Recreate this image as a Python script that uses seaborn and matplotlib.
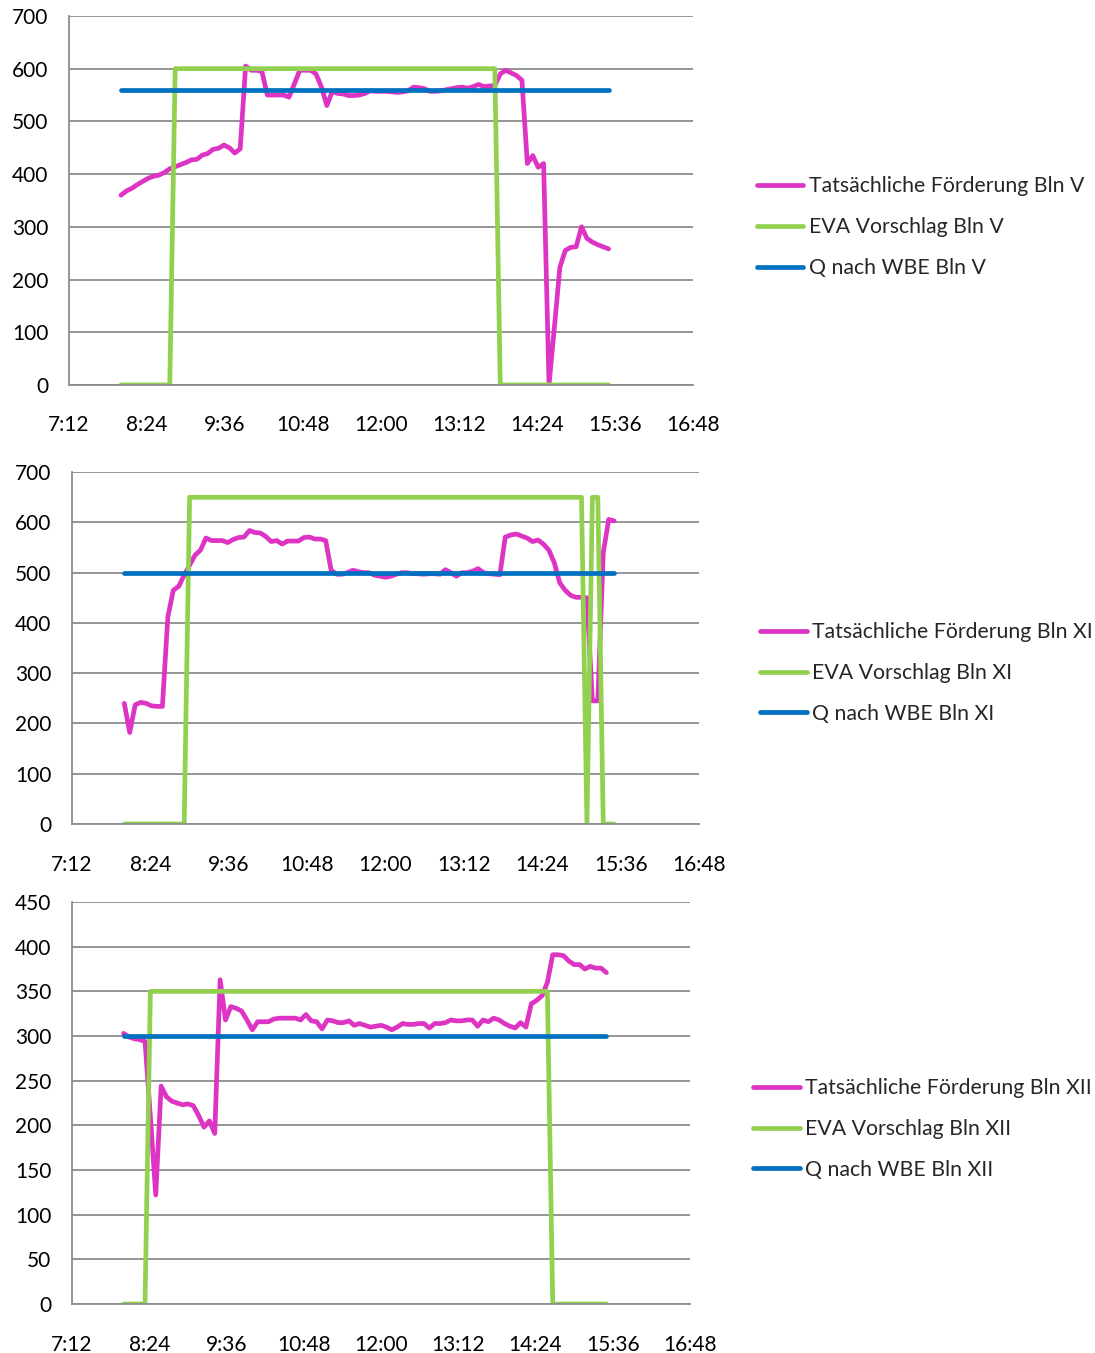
import numpy as np
import pandas as pd
import matplotlib
matplotlib.use('agg')
import matplotlib.pyplot as plt
import matplotlib.dates as mdates
from matplotlib.ticker import FuncFormatter
import seaborn as sns

# measured flow every 5 minutes, 8:00 - 15:30
foerderung_v = [360, 368, 373, 380, 386, 392, 396, 398, 403, 410, 414, 418, 422, 427, 428, 436, 439, 447, 449, 455,
                450, 440, 448, 605, 597, 597, 595, 550, 550, 550, 550, 546, 571, 597, 597, 597, 590, 565, 530, 557,
                553, 552, 549, 549, 550, 553, 558, 557, 557, 557, 556, 555, 556, 558, 565, 564, 562, 557, 557, 558,
                560, 562, 564, 565, 563, 566, 570, 566, 567, 568, 590, 597, 592, 587, 578, 420, 435, 413, 420, 0,
                110, 223, 255, 261, 262, 300, 278, 271, 266, 262, 258]
foerderung_xi = [240, 182, 237, 242, 240, 235, 234, 234, 412, 465, 473, 495, 515, 535, 545, 569, 564, 564, 564, 560,
                 566, 570, 571, 584, 580, 579, 572, 562, 564, 557, 563, 563, 563, 570, 571, 567, 567, 564, 505, 497,
                 497, 500, 505, 502, 500, 500, 495, 493, 491, 493, 497, 500, 500, 498, 498, 497, 498, 498, 497, 506,
                 500, 493, 500, 500, 503, 508, 500, 498, 497, 496, 571, 575, 577, 573, 569, 562, 565, 557, 545, 520,
                 480, 465, 455, 451, 451, 450, 245, 245, 540, 606, 603]
foerderung_xii = [303, 299, 297, 296, 294, 210, 122, 244, 232, 227, 225, 223, 224, 222, 211, 198, 205, 191, 363, 318,
                  333, 331, 328, 318, 307, 316, 316, 316, 319, 320, 320, 320, 320, 318, 324, 317, 316, 308, 318, 317,
                  315, 315, 317, 312, 314, 312, 310, 311, 312, 310, 307, 310, 314, 313, 313, 314, 314, 309, 314, 314,
                  315, 318, 317, 317, 318, 318, 311, 318, 316, 320, 318, 314, 311, 309, 315, 310, 336, 340, 345, 360,
                  391, 391, 390, 384, 380, 380, 375, 378, 376, 376, 371]

# EVA proposal (step changes)
eva_v_t = ["8:00", "8:45", "8:50", "13:45", "13:50", "15:30"]
eva_v = [0, 0, 600, 600, 0, 0]
eva_xi_t = ["8:00", "8:55", "9:00", "15:00", "15:05", "15:10", "15:15", "15:20", "15:30"]
eva_xi = [0, 0, 650, 650, 0, 650, 650, 0, 0]
eva_xii_t = ["8:00", "8:20", "8:25", "14:35", "14:40", "15:30"]
eva_xii = [0, 0, 350, 350, 0, 0]

# Q nach WBE
wbe_t = ["8:00", "15:30"]
wbe_v = [560, 560]
wbe_xi = [500, 500]
wbe_xii = [300, 300]

MAGENTA = '#DD34C4'
GREEN = '#92D050'
BLUE = '#0070C0'
GRID = '#8C8C8C'


def to_time(s):
    return pd.to_datetime(["2000-01-01 " + x for x in s])


t_5min = pd.date_range("2000-01-01 08:00", "2000-01-01 15:30", freq="5min")
x_ticks = pd.date_range("2000-01-01 07:12", "2000-01-01 16:48", freq="72min")

sns.set_style("white")
plt.rcParams['font.family'] = ['Lato', 'DejaVu Sans']

fig = plt.figure(figsize=(10.95, 13.53), dpi=100)


def panel(rect, meas, eva_t, eva, wbe, name, ymax, ystep, leg_xy):
    ax = fig.add_axes(rect)
    kw = dict(ax=ax, lw=3.4, solid_capstyle='round', solid_joinstyle='round')
    sns.lineplot(x=t_5min, y=meas, color=MAGENTA, label="Tatsächliche Förderung " + name, **kw)
    sns.lineplot(x=to_time(eva_t), y=eva, color=GREEN, label="EVA Vorschlag " + name, **kw)
    sns.lineplot(x=to_time(wbe_t), y=wbe, color=BLUE, label="Q nach WBE " + name, **kw)
    ax.set_xlim(x_ticks[0], x_ticks[-1])
    ax.set_ylim(0, ymax)
    ax.set_yticks(np.arange(0, ymax + 1, ystep))
    ax.set_xticks(x_ticks)
    ax.xaxis.set_major_formatter(FuncFormatter(
        lambda v, p: "{}:{:02d}".format(mdates.num2date(v).hour, mdates.num2date(v).minute)))
    ax.yaxis.grid(True, color=GRID, lw=1.3)
    ax.set_axisbelow(True)
    for s in ['top', 'right']:
        ax.spines[s].set_visible(False)
    for s in ['left', 'bottom']:
        ax.spines[s].set_color(GRID)
        ax.spines[s].set_linewidth(1.3)
    ax.tick_params(axis='both', colors=GRID, length=6, width=1.3, labelsize=15, labelcolor='black')
    ax.tick_params(axis='x', pad=16)
    ax.tick_params(axis='y', pad=9)
    ax.set_xlabel("")
    ax.set_ylabel("")
    ax.legend(loc='center left', bbox_to_anchor=leg_xy, bbox_transform=fig.transFigure, frameon=False,
              fontsize=15.3, handlelength=2.2, handletextpad=0.25, labelspacing=0.98, borderpad=0, borderaxespad=0)
    return ax


panel([0.063, 0.7155, 0.570, 0.2727], foerderung_v, eva_v_t, eva_v, wbe_v, "Bln V", 700, 100, (0.691, 0.832))
panel([0.0658, 0.391, 0.5726, 0.260], foerderung_xi, eva_xi_t, eva_xi, wbe_xi, "Bln XI", 700, 100, (0.694, 0.5026))
panel([0.0658, 0.0362, 0.5644, 0.2971], foerderung_xii, eva_xii_t, eva_xii, wbe_xii, "Bln XII", 450, 50, (0.688, 0.1656))

plt.savefig("out.png", dpi=100)
